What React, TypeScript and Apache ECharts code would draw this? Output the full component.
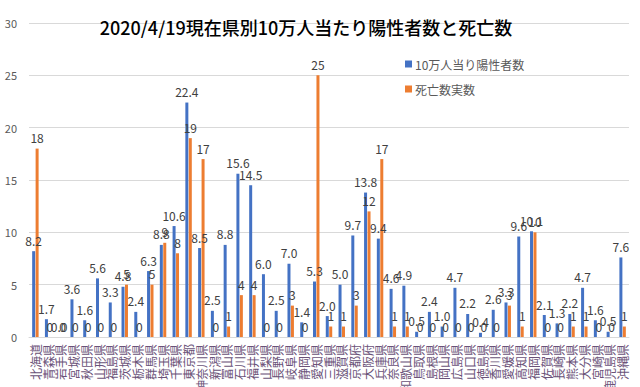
import React, { useEffect, useRef } from "react";
import * as echarts from "echarts";

const prefectures = [
  "北海道", "青森県", "岩手県", "宮城県", "秋田県", "山形県", "福島県", "茨城県", "栃木県", "群馬県",
  "埼玉県", "千葉県", "東京都", "神奈川県", "新潟県", "富山県", "石川県", "福井県", "山梨県", "長野県",
  "岐阜県", "静岡県", "愛知県", "三重県", "滋賀県", "京都府", "大阪府", "兵庫県", "奈良県", "和歌山県",
  "鳥取県", "島根県", "岡山県", "広島県", "山口県", "徳島県", "香川県", "愛媛県", "高知県", "福岡県",
  "佐賀県", "長崎県", "熊本県", "大分県", "宮崎県", "鹿児島県", "沖縄県",
];

const positivePer100k = [
  8.2, 1.7, 0.0, 3.6, 1.6, 5.6, 3.3, 4.8, 2.4, 6.3,
  8.8, 10.6, 22.4, 8.5, 2.5, 8.8, 15.6, 14.5, 6.0, 2.5,
  7.0, 1.4, 5.3, 2.0, 5.0, 9.7, 13.8, 9.4, 4.6, 4.9,
  0.5, 2.4, 1.0, 4.7, 2.2, 0.4, 2.6, 3.3, 9.6, 10.1,
  2.1, 1.3, 2.2, 4.7, 1.6, 0.5, 7.6,
];

const deaths = [
  18, 0, 0, 0, 0, 0, 0, 5, 0, 5,
  9, 8, 19, 17, 0, 1, 4, 4, 0, 0,
  3, 0, 25, 1, 1, 3, 12, 17, 1, 1,
  0, 0, 0, 0, 0, 0, 0, 3, 1, 10,
  0, 0, 1, 1, 0, 0, 1,
];

const yTicks = { min: 0, max: 30, interval: 5 };

const FONT = "'Noto Sans CJK JP', 'Noto Sans', sans-serif";

export default function App() {
  const ref = useRef<HTMLDivElement>(null);
  useEffect(() => {
    if (!ref.current) return;
    const chart = echarts.init(ref.current, null, { renderer: "svg" });
    chart.setOption({
      animation: false,
      textStyle: { fontFamily: FONT },
      title: {
        text: "2020/4/19現在県別10万人当たり陽性者数と死亡数",
        left: 301,
        textAlign: "center",
        top: 13,
        textStyle: { fontSize: 18, fontWeight: 500, color: "#000000", fontFamily: FONT },
      },
      legend: {
        orient: "vertical",
        left: 400,
        top: 53,
        itemWidth: 7,
        itemHeight: 7,
        itemGap: 13,
        icon: "rect",
        textStyle: { fontSize: 12, color: "#595959", fontFamily: FONT, padding: [0, 0, 0, -2] },
        data: ["10万人当り陽性者数", "死亡数実数"],
      },
      grid: {
        left: 29,
        right: 11,
        top: 23,
        bottom: 50,
        containLabel: false,
        outerBoundsMode: "none",
      },
      xAxis: {
        type: "category",
        data: prefectures,
        axisLine: { lineStyle: { color: "#d9d9d9" } },
        axisTick: { show: false },
        axisLabel: {
          interval: 0,
          rotate: 90,
          fontSize: 12,
          color: "#6a5278",
          margin: 7,
          fontFamily: FONT,
        },
      },
      yAxis: {
        type: "value",
        min: yTicks.min,
        max: yTicks.max,
        interval: yTicks.interval,
        axisLine: { show: false },
        axisTick: { show: false },
        splitLine: { lineStyle: { color: "#d9d9d9" } },
        axisLabel: { fontSize: 11, color: "#595959", margin: 12, fontFamily: FONT },
      },
      series: [
        {
          name: "10万人当り陽性者数",
          type: "bar",
          data: positivePer100k,
          barWidth: 3,
          barGap: "15%",
          itemStyle: { color: "#4472C4" },
          label: {
            show: true,
            position: "top",
            distance: 5,
            fontSize: 12,
            color: "#404040",
            formatter: (p: any) => Number(p.value).toFixed(1),
          },
        },
        {
          name: "死亡数実数",
          type: "bar",
          data: deaths,
          barWidth: 3,
          itemStyle: { color: "#ED7D31" },
          label: {
            show: true,
            position: "top",
            distance: 5,
            fontSize: 12,
            color: "#404040",
          },
        },
      ],
    });
    return () => chart.dispose();
  }, []);
  return (
    <div
      ref={ref}
      style={{ position: "absolute", left: 0, top: 0, width: 640, height: 387 }}
    />
  );
}
